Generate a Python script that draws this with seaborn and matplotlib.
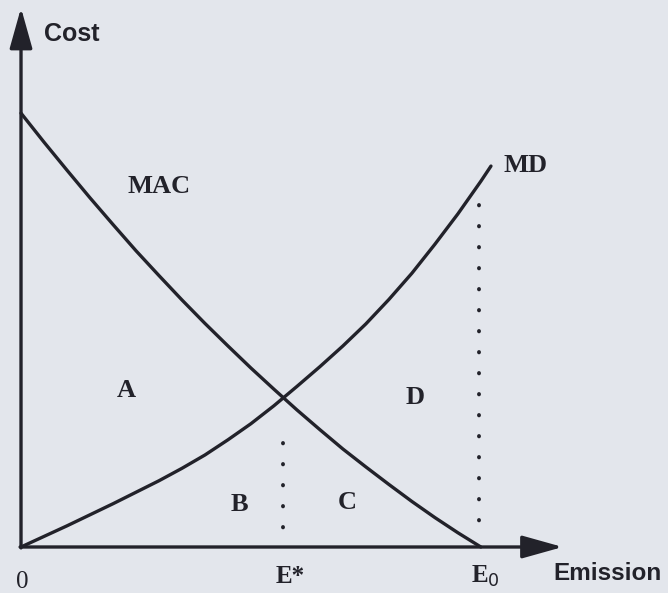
import pandas as pd
import matplotlib.pyplot as plt
import seaborn as sns

# Values (emission units, E0 = 10)
mac_emission = [0, 0.5, 1, 1.5, 2, 2.5, 3, 3.5, 4, 4.5, 5, 5.5, 6, 6.5,
                7, 7.5, 8, 8.5, 9, 9.5, 10]
mac_cost = [9.43, 8.80, 8.19, 7.59, 7.01, 6.44, 5.90, 5.37, 4.86, 4.37, 3.89,
            3.43, 2.98, 2.55, 2.13, 1.74, 1.36, 0.99, 0.64, 0.31, 0]

md_emission = [0, 0.5, 1, 1.5, 2, 2.5, 3, 3.5, 4, 4.5, 5, 5.5, 6, 6.5,
               7, 7.5, 8, 8.5, 9, 9.5, 10, 10.22]
md_cost = [0, 0.23, 0.46, 0.70, 0.94, 1.19, 1.44, 1.71, 2.0, 2.33, 2.68, 3.07,
           3.49, 3.92, 4.37, 4.85, 5.38, 5.95, 6.58, 7.24, 7.95, 8.28]

e_star = 5.7
e_star_cost = 3.24
e_zero = 10.0
e_zero_top = 7.43

area_labels = ['A', 'B', 'C', 'D']

mac = pd.DataFrame({'emission': mac_emission, 'cost': mac_cost})
md = pd.DataFrame({'emission': md_emission, 'cost': md_cost})

sns.set_theme(style='white')
bg = '#e3e6ec'
ink = '#22222a'

fig = plt.figure(figsize=(6.68, 5.93), dpi=100, facecolor=bg)
ax = fig.add_axes([0, 0, 1, 1])
ax.set_facecolor(bg)
ax.set_xlim(-0.457, 14.07)
ax.set_ylim(-1.0, 11.89)
ax.axis('off')

# curves
sns.lineplot(data=mac, x='emission', y='cost', color=ink, lw=2.4, ax=ax)
sns.lineplot(data=md, x='emission', y='cost', color=ink, lw=2.4, ax=ax)

# dotted guides
dot = dict(color=ink, lw=2.8, linestyle=(0, (0.1, 5.3)), dash_capstyle='round')
ax.plot([e_star, e_star], [e_star_cost - 0.98, 0.4], **dot)
ax.plot([e_zero - 0.05, e_zero - 0.05], [e_zero_top, 0.35], **dot)

# axes with arrow heads
arrow = dict(arrowstyle='-|>,head_length=2.5,head_width=0.7', lw=2.4,
             color=ink, shrinkA=0, shrinkB=0, mutation_scale=10)
ax.annotate('', xy=(0, 11.72), xytext=(0, -0.02), arrowprops=arrow)
ax.annotate('', xy=(11.78, 0), xytext=(-0.02, 0), arrowprops=arrow)

serif = ['Liberation Serif', 'DejaVu Serif']
sans = ['Liberation Sans', 'DejaVu Sans']

ax.text(1.11, 11.15, 'Cost', family=sans, fontsize=18, weight='bold',
        color=ink, ha='center', va='center')
ax.text(12.76, -0.57, 'Emission', family=sans, fontsize=17.5, weight='bold',
        color=ink, ha='center', va='center')
ax.text(0.02, -0.76, '0', family=serif, fontsize=18, color=ink,
        ha='center', va='center')
ax.text(5.85, -0.65, 'E*', family=serif, fontsize=18, weight='bold',
        color=ink, ha='center', va='center')
ax.text(10.09, -0.65, r'E$_0$', family=serif, fontsize=18, weight='bold',
        color=ink, ha='center', va='center')

ax.text(3.0, 7.83, 'MAC', family=serif, fontsize=19, weight='bold',
        color=ink, ha='center', va='center')
ax.text(10.98, 8.30, 'MD', family=serif, fontsize=19, weight='bold',
        color=ink, ha='center', va='center')

label_x = [2.30, 4.74, 7.09, 8.57]
label_y = [3.41, 0.93, 0.96, 3.24]
for lab, lx, ly in zip(area_labels, label_x, label_y):
    ax.text(lx, ly, lab, family=serif, fontsize=19, weight='bold',
            color=ink, ha='center', va='center')

fig.savefig('out.png', dpi=100, facecolor=bg)
